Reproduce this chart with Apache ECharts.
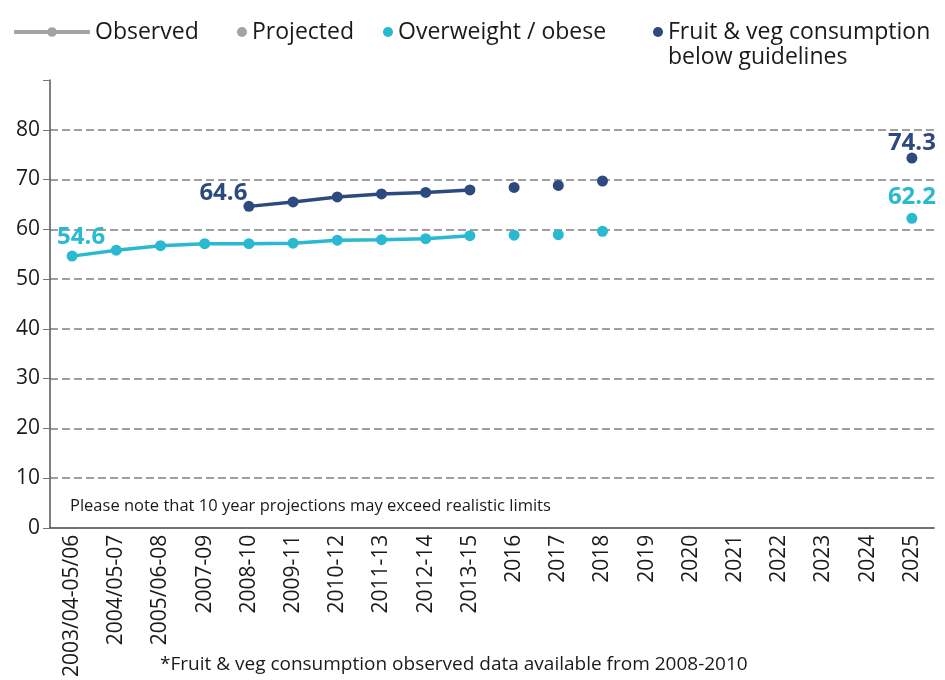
<!DOCTYPE html>
<html>
<head>
<meta charset="utf-8">
<script src="https://cdn.jsdelivr.net/npm/echarts@6/dist/echarts.min.js"></script>
<style>html,body{margin:0;padding:0;background:#fff}#c{width:945px;height:680px}</style>
</head>
<body>
<div id="c"></div>
<script>
const categories = ['2003/04-05/06','2004/05-07','2005/06-08','2007-09','2008-10','2009-11','2010-12','2011-13','2012-14','2013-15','2016','2017','2018','2019','2020','2021','2022','2023','2024','2025'];
// observed (indices 0..9)
const overweightObserved = [54.6,55.8,56.7,57.1,57.1,57.2,57.8,57.9,58.1,58.7];
// fruit & veg observed from 2008-10 (index 4..9)
const fruitObserved = [64.6,65.5,66.5,67.1,67.4,67.9];
const fruitObservedStart = 4;
// projected
const projectedYears = ['2016','2017','2018','2025'];
const overweightProjected = [58.8,58.9,59.6,62.2];
const fruitProjected = [68.4,68.8,69.7,74.3];
const yTicks = [0,10,20,30,40,50,60,70,80];

const CYAN = '#29b9d0', NAVY = '#2d4a7f', GREY = '#a3a3a3';
const FONT = 'Open Sans';

function fill(vals, start){ const a = categories.map(()=>null); vals.forEach((v,i)=>a[start+i]=v); return a; }
function proj(vals){ const a = categories.map(()=>null); projectedYears.forEach((y,i)=>a[categories.indexOf(y)]=vals[i]); return a; }

const owObs = fill(overweightObserved,0);
const fvObs = fill(fruitObserved,fruitObservedStart);
const owProj = proj(overweightProjected);
const fvProj = proj(fruitProjected);

const bigLabel = (color)=>({show:true,color:color,fontFamily:FONT,fontWeight:'bold',fontSize:24,letterSpacing:-1.5,formatter:'{c}'});

owObs[0] = {value: owObs[0], label: Object.assign(bigLabel(CYAN),{position:'top',offset:[9,4]})};
fvObs[fruitObservedStart] = {value: fvObs[fruitObservedStart], label: Object.assign(bigLabel(NAVY),{position:'left',offset:[9,-13]})};
const last = categories.length-1;
owProj[last] = {value: owProj[last], label: Object.assign(bigLabel(CYAN),{position:'top',offset:[0,1]})};
fvProj[last] = {value: fvProj[last], label: Object.assign(bigLabel(NAVY),{position:'top',offset:[0,8]})};

const chart = echarts.init(document.getElementById('c'));
const legendText = {fontFamily:FONT,fontSize:23,color:'#1a1a1a',lineHeight:26};
chart.setOption({
  animation:false,
  textStyle:{fontFamily:FONT},
  grid:{left:50,right:11,top:80,bottom:150,containLabel:false},
  legend:[
    {data:['Observed'],left:12,top:19,padding:0,itemWidth:76,itemHeight:12,textStyle:legendText,
     lineStyle:{width:4,color:GREY},itemStyle:{color:GREY}},
    {data:['Projected'],left:237,top:19,padding:0,itemWidth:10,itemHeight:10,icon:'circle',textStyle:legendText},
    {data:['Overweight / obese'],left:383,top:19,padding:0,itemWidth:10,itemHeight:10,icon:'circle',textStyle:legendText},
    {data:['Fruit & veg consumption below guidelines'],left:653,top:19,padding:0,itemWidth:10,itemHeight:10,icon:'circle',
     formatter:()=> 'Fruit & veg consumption',textStyle:legendText}
  ],
  xAxis:{
    type:'category',data:categories,boundaryGap:true,
    axisLine:{lineStyle:{color:'#444',width:1.5}},
    axisTick:{show:false},
    axisLabel:{rotate:90,fontSize:21,color:'#1a1a1a',margin:7,interval:0,fontFamily:FONT}
  },
  yAxis:{
    type:'value',min:0,max:90,interval:10,
    axisLine:{show:true,lineStyle:{color:'#555',width:1.5}},
    axisTick:{show:true,length:7,lineStyle:{color:'#777'},interval:0},
    axisLabel:{fontSize:21,color:'#1a1a1a',margin:10,fontFamily:FONT,formatter:v=>yTicks.indexOf(v)>=0?String(v):''},
    splitLine:{show:true,showMinLine:false,showMaxLine:false,lineStyle:{color:'#808080',type:[8,4],width:1.5}}
  },
  series:[
    {name:'Observed',type:'line',data:[],symbol:'circle',symbolSize:9,itemStyle:{color:GREY},lineStyle:{color:GREY,width:4}},
    {name:'Projected',type:'scatter',data:[],itemStyle:{color:GREY,opacity:1}},
    {name:'Overweight / obese',type:'scatter',data:[],itemStyle:{color:CYAN,opacity:1}},
    {name:'Fruit & veg consumption below guidelines',type:'scatter',data:[],itemStyle:{color:NAVY,opacity:1}},
    {name:'owObs',type:'line',data:owObs,symbol:'circle',symbolSize:11,showSymbol:true,connectNulls:false,itemStyle:{color:CYAN},lineStyle:{color:CYAN,width:3.5},z:3},
    {name:'fvObs',type:'line',data:fvObs,symbol:'circle',symbolSize:11,itemStyle:{color:NAVY},lineStyle:{color:NAVY,width:3.5},z:3},
    {name:'owProj',type:'scatter',data:owProj,symbol:'circle',symbolSize:11,itemStyle:{color:CYAN,opacity:1},z:3},
    {name:'fvProj',type:'scatter',data:fvProj,symbol:'circle',symbolSize:11,itemStyle:{color:NAVY,opacity:1},z:3}
  ],
  graphic:[
    {type:'text',left:668,top:46,style:{text:'below guidelines',font:'23px "Open Sans"',fill:'#1a1a1a'}},
    {type:'text',left:70,top:498,style:{text:'Please note that 10 year projections may exceed realistic limits',font:'16.5px "Open Sans"',fill:'#1a1a1a'}},
    {type:'text',left:160,top:655,style:{text:'*Fruit & veg consumption observed data available from 2008-2010',font:'19px "Open Sans"',fill:'#1a1a1a'}}
  ]
});
</script>
</body>
</html>
